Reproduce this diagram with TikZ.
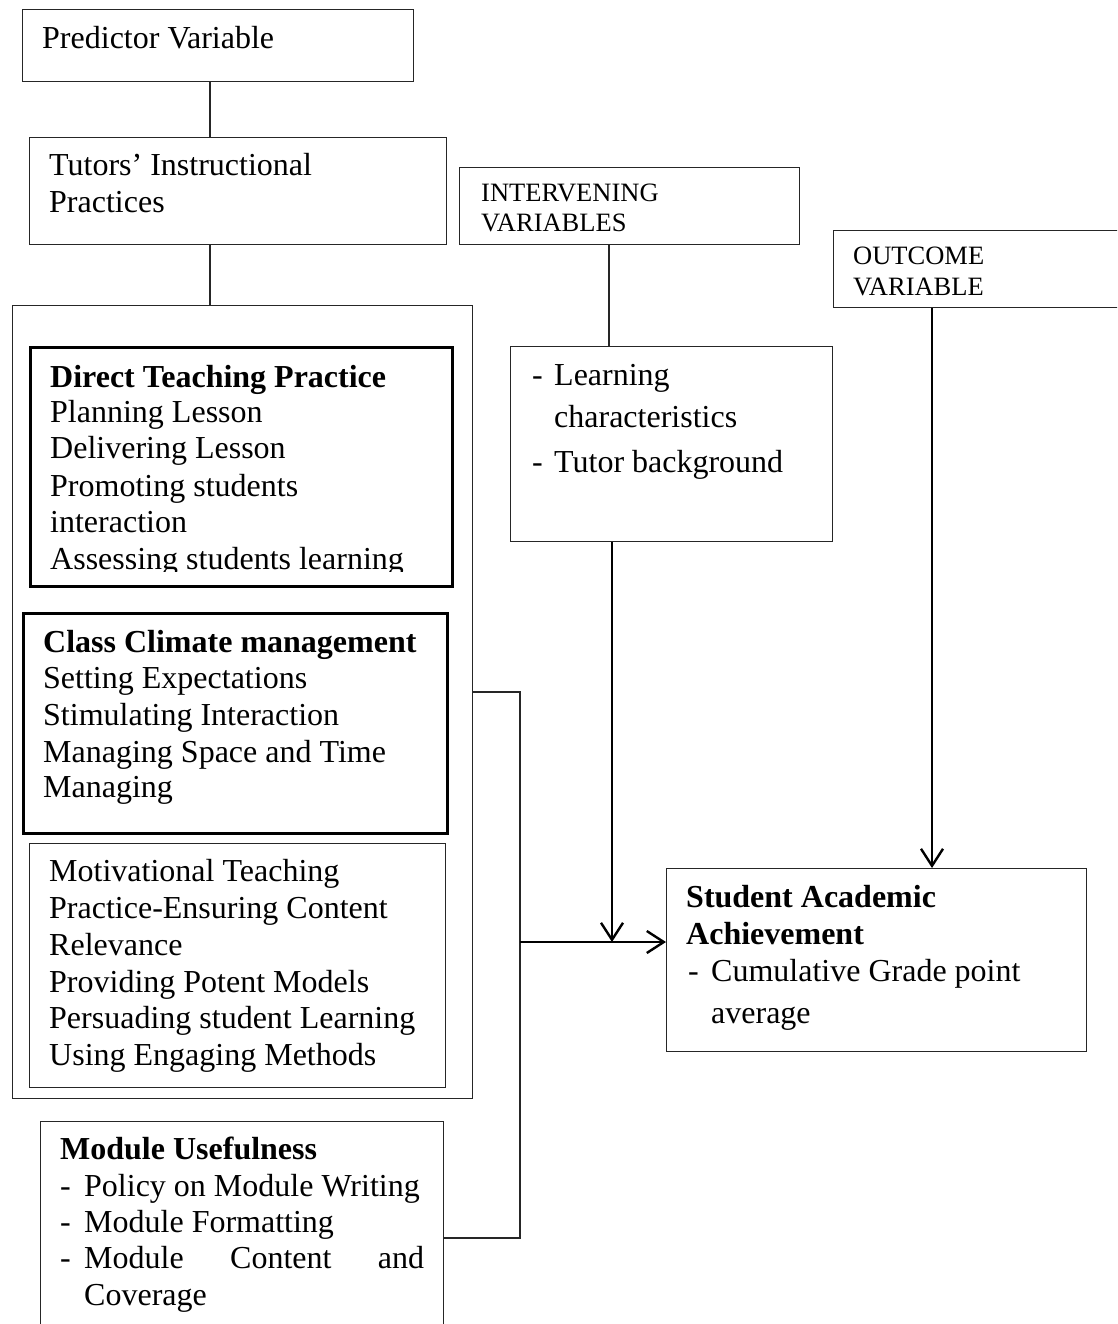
\documentclass[tikz,border=0pt]{standalone}
\usepackage{fontspec}
\setmainfont{Liberation Serif}
\usetikzlibrary{arrows.meta}
\begin{document}
\begin{tikzpicture}[x=1pt,y=-1pt,
  box/.style={draw=black!85, line width=1.3pt, inner sep=0pt, anchor=north west},
  thickbox/.style={box, draw=black, line width=2.8pt},
  txt/.style={anchor=base west, inner sep=0pt, font=\fontsize{32}{37}\selectfont},
  btxt/.style={anchor=base west, inner sep=0pt, font=\fontsize{32}{37}\selectfont\bfseries},
  stxt/.style={anchor=base west, inner sep=0pt, font=\fontsize{26.5}{30}\selectfont},
  link/.style={draw=black!85, line width=1.3pt},
  arr/.style={draw=black, line width=2.4pt, -{Straight Barb[length=17pt,width=22pt,line width=2.4pt]}}]
\useasboundingbox (0,0) rectangle (1117,1324);
\clip (0,0) rectangle (1117,1324);

% boxes
\node[box, minimum width=391pt, minimum height=72pt] (pred) at (22,9) {};
\node[box, minimum width=417pt, minimum height=107pt] (tut) at (29,137) {};
\node[box, minimum width=340pt, minimum height=77pt] (inter) at (459,167) {};
\node[box, minimum width=320pt, minimum height=77pt] (outc) at (833,230) {};
\node[box, minimum width=322pt, minimum height=195pt] (learn) at (510,346) {};
\node[box, minimum width=460pt, minimum height=793pt] (outer) at (12,305) {};
\node[thickbox, minimum width=422pt, minimum height=239pt] (direct) at (29,346) {};
\node[thickbox, minimum width=424pt, minimum height=220pt] (class) at (22,612) {};
\node[box, minimum width=416pt, minimum height=244pt] (motiv) at (29,843) {};
\node[box, minimum width=403pt, minimum height=260pt] (module) at (40,1121) {};
\node[box, minimum width=420pt, minimum height=183pt] (stu) at (666,868) {};

% helper coordinates
\coordinate (cx1) at (210,0);
\coordinate (cx2) at (609,0);
\coordinate (cx3) at (612,0);
\coordinate (cx4) at (932,0);
\coordinate (jn) at (520,942);
\coordinate (jt) at (520,692);
\coordinate (jb) at (520,1238);

% connectors
\draw[link] (pred.south -| cx1) -- (tut.north -| cx1);
\draw[link] (tut.south -| cx1) -- (outer.north -| cx1);
\draw[link] (inter.south -| cx2) -- (learn.north -| cx2);
\draw[arr] (learn.south -| cx3) -- (jn -| cx3);
\draw[arr] (outc.south -| cx4) -- (stu.north -| cx4);
\draw[link] (outer.east |- jt) -- (jt) -- (jb) -- (module.east |- jb);
\draw[arr] (jn) -- (stu.west |- jn);

% texts
\node[txt] (tp) at (42,49) {Predictor Variable};
\node[txt] (tt1) at (49,176) {Tutors’ Instructional};
\node[txt] (tt2) at (49,213) {Practices};
\node[stxt] (ti1) at (481,202) {INTERVENING};
\node[stxt] (ti2) at (481,232) {VARIABLES};
\node[stxt] (to1) at (853,264) {OUTCOME};
\node[stxt] (to2) at (853,295) {VARIABLE};

\node[txt] (tl0) at (532,385) {-};
\node[txt] (tl1) at (554,385) {Learning};
\node[txt] (tl2) at (554,427) {characteristics};
\node[txt] (tl3) at (532,472) {-};
\node[txt] (tl4) at (554,472) {Tutor background};

\node[btxt] (td0) at (50,387) {Direct Teaching Practice};
\node[txt] (td1) at (50,422) {Planning Lesson};
\node[txt] (td2) at (50,458) {Delivering Lesson};
\node[txt] (td3) at (50,496) {Promoting students};
\node[txt] (td4) at (50,532) {interaction};
\begin{scope}
\clip (0,0) rectangle (1117,571);
\node[txt] (td5) at (50,569) {Assessing students learning};
\end{scope}

\node[btxt] (tc0) at (43,652) {Class Climate management};
\node[txt] (tc1) at (43,688) {Setting Expectations};
\node[txt] (tc2) at (43,725) {Stimulating Interaction};
\node[txt] (tc3) at (43,762) {Managing Space and Time};
\node[txt] (tc4) at (43,797) {Managing};

\node[txt] (tm1) at (49,881) {Motivational Teaching};
\node[txt] (tm2) at (49,918) {Practice-Ensuring Content};
\node[txt] (tm3) at (49,955) {Relevance};
\node[txt] (tm4) at (49,992) {Providing Potent Models};
\node[txt] (tm5) at (49,1028) {Persuading student Learning};
\node[txt] (tm6) at (49,1065) {Using Engaging Methods};

\node[btxt] (tu0) at (60,1159) {Module Usefulness};
\node[txt] (tu1d) at (60,1196) {-};
\node[txt] (tu1) at (84,1196) {Policy on Module Writing};
\node[txt] (tu2d) at (60,1232) {-};
\node[txt] (tu2) at (84,1232) {Module Formatting};
\node[txt] (tu3d) at (60,1268) {-};
\node[txt] (tu3) at (84,1268) {\makebox[340pt][s]{Module Content and}};
\node[txt] (tu4) at (84,1305) {Coverage};

\node[btxt] (ts1) at (686,907) {Student Academic};
\node[btxt] (ts2) at (686,944) {Achievement};
\node[txt] (ts3d) at (688,981) {-};
\node[txt] (ts3) at (711,981) {Cumulative Grade point};
\node[txt] (ts4) at (711,1023) {average};
\end{tikzpicture}
\end{document}
